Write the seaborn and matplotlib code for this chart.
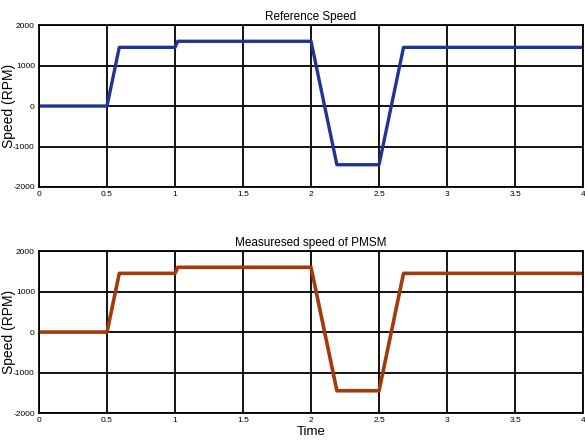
import matplotlib
matplotlib.use("Agg")
import matplotlib.pyplot as plt
import seaborn as sns
import pandas as pd

time_ref = [0.0, 0.5, 0.59, 1.0, 1.02, 2.0, 2.19, 2.5, 2.68, 4.0]
speed_ref = [0, 0, 1450, 1450, 1600, 1600, -1450, -1450, 1450, 1450]
time_meas = [0.0, 0.5, 0.59, 1.0, 1.02, 2.0, 2.19, 2.5, 2.68, 4.0]
speed_meas = [0, 0, 1450, 1450, 1600, 1600, -1450, -1450, 1450, 1450]
x_ticks = [0, 0.5, 1, 1.5, 2, 2.5, 3, 3.5, 4]
x_tick_labels = ["0", "0.5", "1", "1.5", "2", "2.5", "3", "3.5", "4"]
y_ticks = [-2000, -1000, 0, 1000, 2000]
titles = ["Reference Speed", "Measuresed speed of PMSM"]

sns.set_theme(style="white")
plt.rcParams['font.family'] = ['Liberation Sans Narrow', 'Liberation Sans', 'DejaVu Sans']
plt.rcParams['axes.unicode_minus'] = False

fig = plt.figure(figsize=(5.85, 4.48), dpi=100)
ax1 = fig.add_axes([0.0667, 0.5826, 0.930, 0.3614])
ax2 = fig.add_axes([0.0667, 0.0781, 0.930, 0.3614])

df1 = pd.DataFrame({"t": time_ref, "s": speed_ref})
df2 = pd.DataFrame({"t": time_meas, "s": speed_meas})

sns.lineplot(data=df1, x="t", y="s", ax=ax1, color="#1f3494", linewidth=2.4, sort=False)
sns.lineplot(data=df2, x="t", y="s", ax=ax2, color="#a33a0c", linewidth=2.6, sort=False)

for ax, title in zip([ax1, ax2], titles):
    ax.set_xlim(0, 4)
    ax.set_ylim(-2000, 2000)
    ax.set_xticks(x_ticks)
    ax.set_xticklabels(x_tick_labels)
    ax.set_yticks(y_ticks)
    ax.grid(True, color="black", linewidth=1.3)
    ax.set_axisbelow(True)
    for sp in ax.spines.values():
        sp.set_color("black")
        sp.set_linewidth(1.3)
        sp.set_visible(True)
    ax.tick_params(axis="both", labelsize=6, length=0, pad=3, colors="black")
    ax.set_title(title, fontsize=8.5, pad=4, color="black")
    ax.set_ylabel("Speed (RPM)", fontsize=10, family=["Liberation Sans", "DejaVu Sans"], color="black")
    ax.yaxis.set_label_coords(-0.043, 0.5)
    ax.set_xlabel("")

ax2.set_xlabel("Time", fontsize=9.5, labelpad=1, color="black")

fig.savefig("out.png", dpi=100)
